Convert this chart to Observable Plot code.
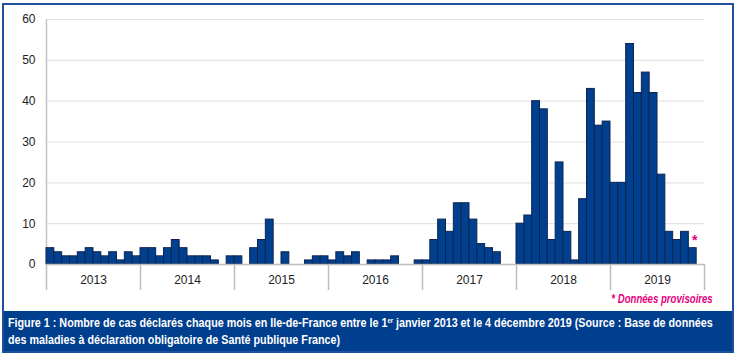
<!DOCTYPE html>
<html>
<head>
<meta charset="utf-8">
<script src="https://cdn.jsdelivr.net/npm/d3@7"></script>
<script src="https://cdn.jsdelivr.net/npm/@observablehq/plot@0.6"></script>
<style>
  html, body { margin: 0; padding: 0; background: #fff; }
  #wrap { position: relative; width: 738px; height: 357px; overflow: hidden; }
  #frame { position: absolute; left: 2px; top: 3px; width: 728px; height: 346px; border: 2px solid #1f4f9f; }
  #chart { position: absolute; left: 0; top: 0; }
  #note { position: absolute; right: 25px; top: 292px; white-space: nowrap; transform: scaleX(0.8); transform-origin: right center; font-family: "Liberation Sans", Arial, sans-serif; font-style: italic; font-weight: bold; font-size: 12px; color: #e5007e; }
  #caption { position: absolute; left: 4px; top: 311px; width: 728px; height: 40px; background: #003e8e; color: #fff; font-family: "Liberation Sans", Arial, sans-serif; font-weight: bold; font-size: 12.5px; line-height: 17px; padding: 4px 0 0 4px; box-sizing: border-box; overflow: hidden; }
  #caption div { white-space: nowrap; transform: scaleX(0.86); transform-origin: left center; }
  #caption sup { font-size: 7px; vertical-align: 4px; line-height: 0; }
</style>
</head>
<body>
<div id="wrap">
  <div id="chart"></div>
  <div id="frame"></div>
  <div id="note">* Données provisoires</div>
  <div id="caption"><div>Figure 1 : Nombre de cas déclarés chaque mois en Ile-de-France entre le 1<sup>er</sup> janvier 2013 et le 4 décembre 2019 (Source : Base de données</div><div>des maladies à déclaration obligatoire de Santé publique France)</div></div>
</div>
<script>
const years = ["2013", "2014", "2015", "2016", "2017", "2018", "2019"];
const cases2013 = [4, 3, 2, 2, 3, 4, 3, 2, 3, 1, 3, 2];
const cases2014 = [4, 4, 2, 4, 6, 4, 2, 2, 2, 1, 0, 2];
const cases2015 = [2, 0, 4, 6, 11, 0, 3, 0, 0, 1, 2, 2];
const cases2016 = [1, 3, 2, 3, 0, 1, 1, 1, 2, 0, 0, 1];
const cases2017 = [1, 6, 11, 8, 15, 15, 11, 5, 4, 3, 0, 0];
const cases2018 = [10, 12, 40, 38, 6, 25, 8, 1, 16, 43, 34, 35];
const cases2019 = [20, 20, 54, 42, 47, 42, 22, 8, 6, 8, 4, 0];
const yTicks = [0, 10, 20, 30, 40, 50, 60];
const provisionalMonth = 82; // novembre 2019 (index from Jan 2013)

const allCases = [cases2013, cases2014, cases2015, cases2016, cases2017, cases2018, cases2019];
const data = allCases.flatMap((arr, yi) => arr.map((v, m) => ({i: yi * 12 + m, v})));
const nMonths = data.length;
const yearBounds = d3.range(0, nMonths + 1, 12);
const yearCenters = years.map((y, k) => k * 12 + 6);
const star = data.filter(d => d.i === provisionalMonth);

const chart = Plot.plot({
  width: 738,
  height: 300,
  marginLeft: 46,
  marginRight: 34,
  marginTop: 19,
  marginBottom: 36,
  style: {fontFamily: "'Liberation Sans', Arial, sans-serif", fontSize: "12px", color: "#222", background: "transparent"},
  x: {domain: [0, nMonths], axis: null},
  y: {domain: [0, 60], axis: null},
  marks: [
    Plot.ruleY(yTicks.filter(t => t > 0), {stroke: "#e4e4e4", strokeWidth: 1.2}),
    Plot.ruleX([0], {y1: 0, y2: 60, stroke: "#c4c4c4", strokeWidth: 1.5}),
    Plot.rectY(data.filter(d => d.v > 0), {x1: "i", x2: d => d.i + 1, y1: 0, y2: "v", fill: "#00408f", stroke: "#0c2452", strokeWidth: 1}),
    Plot.ruleY([0], {stroke: "#bdbdbd", strokeWidth: 1.5}),
    Plot.axisY({ticks: yTicks, tickSize: 0, tickPadding: 11, fontSize: 12, label: null}),
    Plot.axisX({ticks: yearBounds, tickSize: 26, tickFormat: () => "", stroke: "#bdbdbd", strokeWidth: 1.5, label: null}),
    Plot.axisX({ticks: yearCenters, tickSize: 0, tickPadding: 11, tickFormat: t => years[(t - 6) / 12], fontSize: 12, label: null}),
    Plot.text(star, {x: d => d.i + 0.5, y: "v", text: () => "*", fill: "#e5007e", fontSize: 14, fontWeight: "bold", dx: 2, dy: -8})
  ]
});
document.getElementById("chart").appendChild(chart);
</script>
</body>
</html>
